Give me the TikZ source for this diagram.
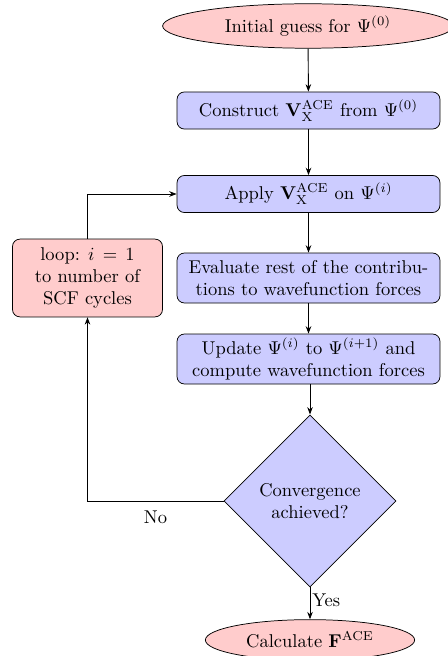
\documentclass[tikz,border=0pt]{standalone}
\usetikzlibrary{shapes.geometric,arrows.meta}
\begin{document}
\begin{tikzpicture}[x=0.54pt,y=-0.54pt,
  proc/.style={draw, rounded corners=4pt, fill=blue!20, minimum width=142pt, minimum height=20pt, align=center, inner sep=2pt},
  term/.style={draw, ellipse, fill=red!20, inner sep=0pt},
  loopbox/.style={draw, rounded corners=4pt, fill=red!20, minimum width=81pt, minimum height=42pt, align=center, inner sep=2pt},
  decision/.style={draw, diamond, fill=blue!20, minimum width=93pt, minimum height=93pt, align=center, inner sep=0pt, aspect=1},
  conn/.style={draw, line width=0.5pt, -{Stealth[length=4pt,width=3pt]}},
  lbl/.style={inner sep=1pt}
]
\useasboundingbox (0,0) rectangle (447,656);
\node[term, minimum width=157pt, minimum height=24pt] (init) at (308,26) {Initial guess for $\Psi^{(0)}$};
\node[proc] (cons) at (308.5,110.5) {Construct $\mathbf{V}_{\mathrm{X}}^{\mathrm{ACE}}$ from $\Psi^{(0)}$};
\node[proc] (apply) at (308.5,194) {Apply $\mathbf{V}_{\mathrm{X}}^{\mathrm{ACE}}$ on $\Psi^{(i)}$};
\node[proc, minimum height=27pt] (eval) at (308.5,278) {Evaluate rest of the contribu-\\tions to wavefunction forces};
\node[proc, minimum height=27pt] (upd) at (308.5,359) {Update $\Psi^{(i)}$ to $\Psi^{(i+1)}$ and\\compute wavefunction forces};
\node[loopbox] (loop) at (87.5,278) {loop: $i\,=\,1$\\to number of\\SCF cycles};
\node[decision] (conv) at (310,501) {Convergence\\achieved?};
\node[term, minimum width=113pt, minimum height=22pt] (calc) at (310,640) {Calculate $\mathbf{F}^{\mathrm{ACE}}$};
\coordinate (nocorner) at (87.5,501);
\coordinate (loopcorner) at (87.5,194);
\draw[conn] (init) -- (cons);
\draw[conn] (cons) -- (apply);
\draw[conn] (apply) -- (eval);
\draw[conn] (eval) -- (upd);
\draw[conn] (upd.south -| conv.north) -- (conv.north);
\draw[conn] (conv) -- node[lbl, right, pos=0.4] {Yes} (calc);
\draw[conn] (conv.west) -- node[lbl, below=4pt, pos=0.5] {No} (nocorner) -- (loop.south);
\draw[conn] (loop.north) -- (loopcorner) -- (apply.west);
\end{tikzpicture}
\end{document}
